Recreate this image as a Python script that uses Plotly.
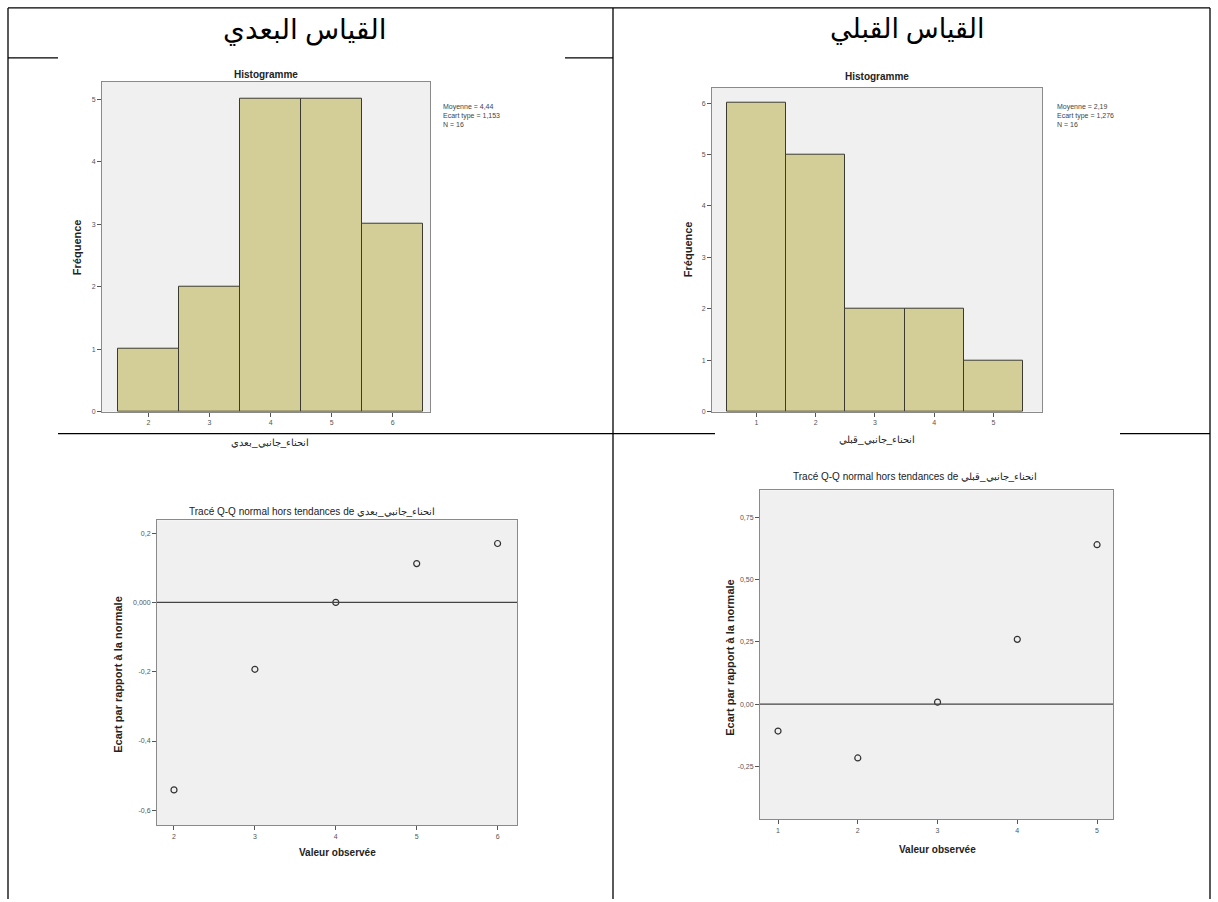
import plotly.graph_objects as go

W, H = 1218, 902

# Histogram data (après / avant)
post_values = [2, 3, 4, 5, 6]
post_counts = [1, 2, 5, 5, 3]
pre_values = [1, 2, 3, 4, 5]
pre_counts = [6, 5, 2, 2, 1]

post_stats = ["Moyenne = 4,44", "Ecart type = 1,153", "N = 16"]
pre_stats = ["Moyenne = 2,19", "Ecart type = 1,276", "N = 16"]

# Detrended normal Q-Q deviations
post_qq_x = [2, 3, 4, 5, 6]
post_qq_y = [-0.541, -0.193, 0.0, 0.112, 0.170]
pre_qq_x = [1, 2, 3, 4, 5]
pre_qq_y = [-0.108, -0.216, 0.008, 0.26, 0.64]

post_qq_ticks = [0.2, 0.0, -0.2, -0.4, -0.6]
post_qq_ticktext = ["0,2", "0,000", "-0,2", "-0,4", "-0,6"]
pre_qq_ticks = [0.75, 0.5, 0.25, 0.0, -0.25]
pre_qq_ticktext = ["0,75", "0,50", "0,25", "0,00", "-0,25"]

var_post = "انحناء_جانبي_بعدي"
var_pre = "انحناء_جانبي_قبلي"
head_post = "القياس البعدي"
head_pre = "القياس القبلي"

BAR = "#D3CE97"
BG = "#F0F0F0"
TICK = dict(size=7, color="#555", family="Arial")


def fx(p):
    return p / W


def fy(p):
    return 1 - p / H


fig = go.Figure()

panels = [
    # x axis, y axis, x-px range, y-px range (top, bottom)
    ("x", "y", (102, 430), (82, 413)),
    ("x2", "y2", (712, 1042), (88, 413)),
    ("x3", "y3", (157, 517), (522, 828)),
    ("x4", "y4", (760, 1113), (492, 822)),
]

fig.add_trace(go.Bar(x=post_values, y=post_counts, width=1, marker=dict(color=BAR, line=dict(color="#3a3a30", width=1)),
                     xaxis="x", yaxis="y", showlegend=False))
fig.add_trace(go.Bar(x=pre_values, y=pre_counts, width=1, marker=dict(color=BAR, line=dict(color="#3a3a30", width=1)),
                     xaxis="x2", yaxis="y2", showlegend=False))
fig.add_trace(go.Scatter(x=post_qq_x, y=post_qq_y, mode="markers",
                         marker=dict(symbol="circle-open", size=6, color="#333", line=dict(width=1.2)),
                         xaxis="x3", yaxis="y3", showlegend=False))
fig.add_trace(go.Scatter(x=pre_qq_x, y=pre_qq_y, mode="markers",
                         marker=dict(symbol="circle-open", size=6, color="#333", line=dict(width=1.2)),
                         xaxis="x4", yaxis="y4", showlegend=False))

axis_common = dict(showgrid=False, zeroline=False, showline=True, mirror=True, linecolor="#8a8a8a",
                   ticks="outside", ticklen=4, tickcolor="#555", tickfont=TICK)

layout = dict(width=W, height=H, autosize=False, margin=dict(l=0, r=0, t=0, b=0),
              paper_bgcolor="white", plot_bgcolor=BG, bargap=0)

ranges = {
    "x": dict(range=[1.24, 6.61], tickvals=post_values),
    "y": dict(range=[0, 5.28], tickvals=[0, 1, 2, 3, 4, 5]),
    "x2": dict(range=[0.25, 5.82], tickvals=pre_values),
    "y2": dict(range=[0, 6.3], tickvals=[0, 1, 2, 3, 4, 5, 6]),
    "x3": dict(range=[1.79, 6.24], tickvals=post_qq_x),
    "y3": dict(range=[-0.643, 0.237], tickvals=post_qq_ticks, ticktext=post_qq_ticktext),
    "x4": dict(range=[0.774, 5.2], tickvals=pre_qq_x),
    "y4": dict(range=[-0.462, 0.858], tickvals=pre_qq_ticks, ticktext=pre_qq_ticktext),
}

for xa, ya, (x0, x1), (y0, y1) in panels:
    xk = "xaxis" + xa[1:]
    yk = "yaxis" + ya[1:]
    layout[xk] = dict(axis_common, domain=[fx(x0), fx(x1)], anchor=ya, **ranges[xa])
    layout[yk] = dict(axis_common, domain=[fy(y1), fy(y0)], anchor=xa, **ranges[ya])

shapes = []

# zero reference lines on the Q-Q panels
shapes.append(dict(type="line", xref="x3 domain", yref="y3", x0=0, x1=1, y0=0, y1=0,
                   line=dict(color="#444", width=1.2)))
shapes.append(dict(type="line", xref="x4 domain", yref="y4", x0=0, x1=1, y0=0, y1=0,
                   line=dict(color="#444", width=1.2)))


def hline(y, xa, xb, w=1.3):
    shapes.append(dict(type="line", xref="paper", yref="paper", x0=fx(xa), x1=fx(xb), y0=fy(y), y1=fy(y),
                       line=dict(color="black", width=w)))


def vline(x, ya, yb, w=1.3):
    shapes.append(dict(type="line", xref="paper", yref="paper", x0=fx(x), x1=fx(x), y0=fy(ya), y1=fy(yb),
                       line=dict(color="black", width=w)))


# table rules
hline(8, 8, 1210)
vline(8, 8, 902)
vline(613, 8, 902)
vline(1210, 8, 902)
hline(58, 8, 58)
hline(58, 565, 613)
hline(435, 58, 613)
hline(435, 613, 715)
hline(435, 1120, 1210)

ann = []


def text(x, y, s, size, bold=False, anchor="center", yanchor="middle", angle=0, family="Arial", color="#222"):
    ann.append(dict(xref="paper", yref="paper", x=fx(x), y=fy(y), text=("<b>%s</b>" % s) if bold else s,
                    showarrow=False, xanchor=anchor, yanchor=yanchor, textangle=angle, align=anchor if anchor != "center" else "center",
                    font=dict(size=size, family=family, color=color)))


text(305, 30, head_post, 28, family="Liberation Serif, DejaVu Sans", color="black")
text(907, 30, head_pre, 27, family="Liberation Serif, DejaVu Sans", color="black")

text(266, 75, "Histogramme", 10, bold=True)
text(877, 77, "Histogramme", 10, bold=True)
text(441, 101, "<br>".join(post_stats), 7, anchor="left", yanchor="top", color="#444")
text(1055, 101, "<br>".join(pre_stats), 7, anchor="left", yanchor="top", color="#444")
text(77, 248, "Fréquence", 11, bold=True, angle=-90)
text(688, 250, "Fréquence", 11, bold=True, angle=-90)
text(270, 444, var_post, 10, color="#222")
text(877, 441, var_pre, 10, color="#222")

text(312, 513, "Tracé Q-Q normal hors tendances de " + var_post, 10, color="#222")
text(915, 478, "Tracé Q-Q normal hors tendances de " + var_pre, 10, color="#222")
text(118, 677, "Ecart par rapport à la normale", 11, bold=True, angle=-90)
text(730, 660, "Ecart par rapport à la normale", 11, bold=True, angle=-90)
text(337, 855, "Valeur observée", 10, bold=True)
text(938, 852, "Valeur observée", 10, bold=True)

layout["shapes"] = shapes
layout["annotations"] = ann
fig.update_layout(**layout)

fig.write_html("out.html", post_script="document.body.style.margin='0';")
